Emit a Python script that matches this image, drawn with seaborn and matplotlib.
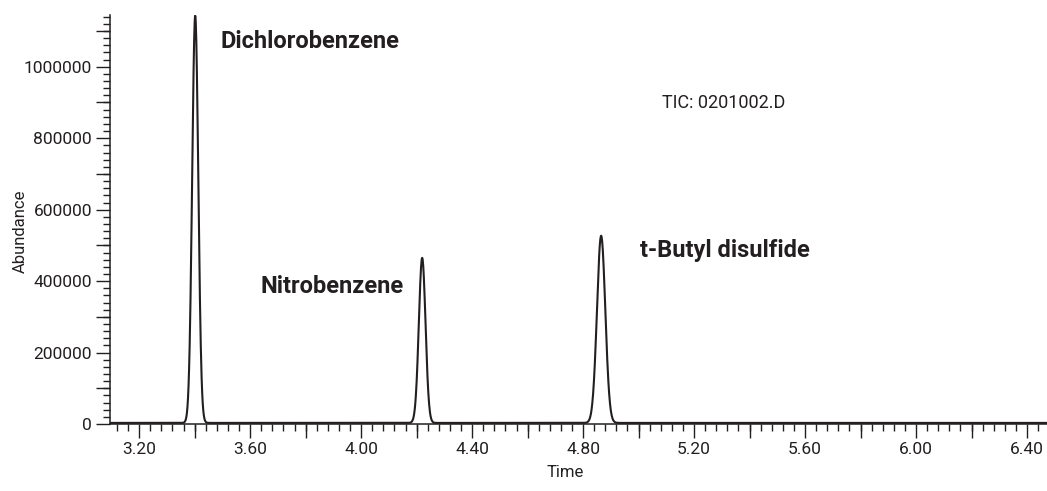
import numpy as np
import pandas as pd
import matplotlib
matplotlib.use("Agg")
import matplotlib.pyplot as plt
from matplotlib.ticker import MultipleLocator, FixedLocator
import seaborn as sns

# Peak table of the total ion chromatogram
peak_names = ["Dichlorobenzene", "Nitrobenzene", "t-Butyl disulfide"]
peak_times = [3.402, 4.220, 4.865]          # retention time, min
peak_heights = [1140000, 462000, 524000]    # abundance at apex
peak_sigmas = [0.011, 0.012, 0.015]         # peak width (std dev), min
baseline_level = 3000

# Label anchors (left edge, vertical centre) for each compound
label_times = [3.492, 3.636, 5.005]
label_abund = [1070000, 384000, 487000]

file_label = "TIC: 0201002.D"
x_range = (3.095, 6.472)
y_range = (0, 1145000)

# Build the trace on a fine time grid
t = np.arange(x_range[0], x_range[1], 0.001)
signal = np.full_like(t, baseline_level, dtype=float)
for tr, h, s in zip(peak_times, peak_heights, peak_sigmas):
    signal += h * np.exp(-0.5 * ((t - tr) / s) ** 2)
df = pd.DataFrame({"Time": t, "Abundance": signal})

sns.set_theme(style="ticks")
plt.rcParams["font.family"] = ["Roboto", "DejaVu Sans"]
ink = "#231f20"

fig = plt.figure(figsize=(10.47, 4.91), dpi=100)
ax = fig.add_axes([0.1051, 0.1365, 0.8949, 0.833])

sns.lineplot(data=df, x="Time", y="Abundance", ax=ax, color=ink, linewidth=1.5)

ax.set_xlim(*x_range)
ax.set_ylim(*y_range)
sns.despine(ax=ax)
for side in ("left", "bottom"):
    ax.spines[side].set_color(ink)
    ax.spines[side].set_linewidth(1.1)

# x ticks: labels every 0.4, short marks every 0.04
xlab = np.round(np.arange(3.2, 6.41, 0.4), 2)
ax.xaxis.set_major_locator(FixedLocator(xlab))
ax.set_xticklabels([f"{v:.2f}" for v in xlab])
ax.xaxis.set_minor_locator(FixedLocator(np.round(np.arange(3.12, 6.47, 0.04), 2)))
# y ticks: labels every 200000, short marks every 20000
ax.yaxis.set_major_locator(MultipleLocator(200000))
ax.yaxis.set_minor_locator(MultipleLocator(20000))
ax.set_yticklabels([f"{int(v)}" for v in ax.get_yticks()])

ax.tick_params(which="major", length=10, width=1.0, color=ink, labelsize=12.5,
               labelcolor=ink, pad=3)
ax.tick_params(which="minor", length=5, width=1.0, color=ink)

# long unlabeled marks half-way between the labeled ones
ax_mid = ax.secondary_xaxis("bottom")
ax_mid.set_xticks(np.round(np.arange(3.4, 6.47, 0.4), 2))
ax_mid.tick_params(length=10, width=1.0, color=ink, labelbottom=False)
ax_mid.spines["bottom"].set_visible(False)
ay_mid = ax.secondary_yaxis("left")
ay_mid.set_yticks(np.arange(100000, 1145000, 200000))
ay_mid.tick_params(length=10, width=1.0, color=ink, labelleft=False)
ay_mid.spines["left"].set_visible(False)

ax.set_xlabel("Time", fontsize=12, color=ink)
ax.set_ylabel("Abundance", fontsize=12, color=ink)
ax.xaxis.set_label_coords(0.486, -0.1)
ax.yaxis.set_label_coords(-0.088, 0.47)

for name, xt, ya in zip(peak_names, label_times, label_abund):
    ax.text(xt, ya, name, fontsize=17, fontweight="bold", color=ink,
            ha="left", va="center")
ax.text(5.085, 899000, file_label, fontsize=13, color=ink, ha="left", va="center")

fig.savefig("out.png", dpi=100)
